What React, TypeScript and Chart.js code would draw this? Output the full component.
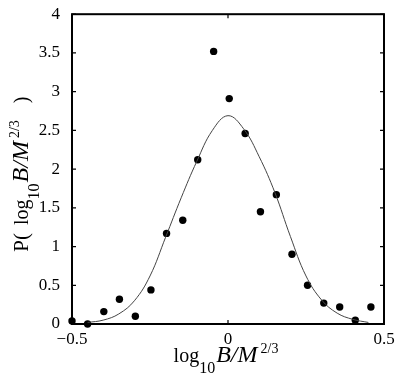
import React, { useEffect, useRef } from "react";
import { Chart, registerables } from "chart.js";
Chart.register(...registerables);

// Observed data points (log10 B/M^(2/3), P)
const pointX = [-0.5, -0.45, -0.398, -0.348, -0.297, -0.247, -0.197, -0.145, -0.097, -0.046, 0.004, 0.055, 0.104, 0.155, 0.205, 0.255, 0.307, 0.358, 0.408, 0.458];
const pointY = [0.04, 0.0, 0.16, 0.32, 0.1, 0.44, 1.17, 1.34, 2.12, 3.52, 2.91, 2.46, 1.45, 1.67, 0.9, 0.5, 0.27, 0.22, 0.05, 0.22];

// Fitted curve
const curveX = [-0.45, -0.4, -0.35, -0.3, -0.25, -0.2, -0.15, -0.1, -0.05, 0.0, 0.05, 0.1, 0.15, 0.2, 0.25, 0.3, 0.35, 0.4, 0.45];
const curveY = [0.02, 0.05, 0.13, 0.3, 0.62, 1.12, 1.63, 2.1, 2.5, 2.69, 2.52, 2.16, 1.7, 1.13, 0.62, 0.31, 0.14, 0.06, 0.02];

const xTicks = [-0.5, 0, 0.5];
const yTicks = [0, 0.5, 1, 1.5, 2, 2.5, 3, 3.5, 4];

const SERIF = "'Liberation Serif', 'Times New Roman', Times, serif";

type Seg = { text: string; size: number; italic?: boolean; dy: number; gap: number };

const xTitle: Seg[] = [
  { text: "log", size: 20, dy: 0, gap: 0 },
  { text: "10", size: 16, dy: 11, gap: 0 },
  { text: "B/M", size: 24, italic: true, dy: 0, gap: 1 },
  { text: "2/3", size: 14, dy: -9, gap: 3 },
];
const yTitle: Seg[] = [
  { text: "P(", size: 21, dy: 0, gap: 0 },
  { text: "log", size: 20, dy: 0, gap: 8 },
  { text: "10", size: 16, dy: 11, gap: 0 },
  { text: "B/M", size: 24, italic: true, dy: 0, gap: 1 },
  { text: "2/3", size: 14, dy: -9, gap: 3 },
  { text: ")", size: 20, dy: 0, gap: 17 },
];

function drawRich(ctx: CanvasRenderingContext2D, segs: Seg[], cx: number, cy: number, rotate: boolean) {
  ctx.save();
  ctx.translate(cx, cy);
  if (rotate) ctx.rotate(-Math.PI / 2);
  let total = 0;
  const widths = segs.map((s) => {
    ctx.font = `${s.italic ? "italic " : ""}${s.size}px ${SERIF}`;
    const w = ctx.measureText(s.text).width;
    total += s.gap + w;
    return w;
  });
  let x = -total / 2;
  ctx.textBaseline = "alphabetic";
  ctx.textAlign = "left";
  ctx.fillStyle = "#000";
  segs.forEach((s, i) => {
    x += s.gap;
    ctx.font = `${s.italic ? "italic " : ""}${s.size}px ${SERIF}`;
    ctx.fillText(s.text, x, s.dy);
    x += widths[i];
  });
  ctx.restore();
}

const frame = {
  id: "matlabFrame",
  beforeDatasetsDraw(chart: any) {
    const { ctx, chartArea: a, scales } = chart;
    ctx.save();
    ctx.strokeStyle = "#000";
    ctx.lineWidth = 1.2;
    const tl = 4;
    ctx.beginPath();
    for (const v of xTicks) {
      const px = scales.x.getPixelForValue(v);
      ctx.moveTo(px, a.bottom);
      ctx.lineTo(px, a.bottom - tl);
      ctx.moveTo(px, a.top);
      ctx.lineTo(px, a.top + tl);
    }
    for (const v of yTicks) {
      const py = scales.y.getPixelForValue(v);
      ctx.moveTo(a.left, py);
      ctx.lineTo(a.left + tl, py);
      ctx.moveTo(a.right, py);
      ctx.lineTo(a.right - tl, py);
    }
    ctx.stroke();
    ctx.lineWidth = 2;
    ctx.strokeRect(a.left, a.top, a.right - a.left, a.bottom - a.top);
    ctx.restore();
  },
  afterDraw(chart: any) {
    const { ctx, chartArea: a } = chart;
    drawRich(ctx, xTitle, (a.left + a.right) / 2 - 2, 362, false);
    drawRich(ctx, yTitle, 28, (a.top + a.bottom) / 2 + 5, true);
  },
};

const fmt = (v: number) => (v < 0 ? "\u2212" + String(Math.abs(v)) : String(v));

export default function App() {
  const ref = useRef<HTMLCanvasElement>(null);
  useEffect(() => {
    if (!ref.current) return;
    let chart: Chart | null = null;
    let cancelled = false;
    const make = () => {
      if (cancelled || !ref.current) return;
      chart = new Chart(ref.current, {
        type: "scatter",
        data: {
          datasets: [
            {
              label: "fit",
              data: curveX.map((x, i) => ({ x, y: curveY[i] })),
              showLine: true,
              borderColor: "#444",
              borderWidth: 1,
              pointRadius: 0,
              tension: 0.4,
              clip: false as any,
            },
            {
              label: "data",
              data: pointX.map((x, i) => ({ x, y: pointY[i] })),
              showLine: false,
              backgroundColor: "#000",
              borderColor: "#000",
              borderWidth: 0,
              pointRadius: 3.7,
              clip: false as any,
            },
          ],
        },
        options: {
          animation: false,
          responsive: false,
          devicePixelRatio: 1,
          layout: { padding: { left: 0, right: 15, top: 13, bottom: 0 } },
          plugins: { legend: { display: false }, tooltip: { enabled: false } },
          scales: {
            x: {
              type: "linear",
              min: -0.5,
              max: 0.5,
              grid: { display: false },
              border: { display: false },
              afterBuildTicks: (s: any) => {
                s.ticks = xTicks.map((value) => ({ value }));
              },
              afterFit: (s: any) => {
                s.height = 56;
              },
              ticks: {
                padding: -3,
                color: "#000",
                font: { family: SERIF, size: 17 },
                maxRotation: 0,
                callback: (v: any) => fmt(Number(v)),
              },
            },
            y: {
              type: "linear",
              min: 0,
              max: 4,
              grid: { display: false },
              border: { display: false },
              afterBuildTicks: (s: any) => {
                s.ticks = yTicks.map((value) => ({ value }));
              },
              afterFit: (s: any) => {
                s.width = 72;
              },
              ticks: {
                padding: 4,
                color: "#000",
                font: { family: SERIF, size: 17 },
                callback: (v: any) => fmt(Number(v)),
              },
            },
          },
        },
        plugins: [frame],
      });
    };
    const fontsApi = (document as any).fonts;
    if (fontsApi && fontsApi.load) {
      Promise.all([
        fontsApi.load("17px 'Liberation Serif'"),
        fontsApi.load("italic 24px 'Liberation Serif'"),
      ]).then(make, make);
    } else {
      make();
    }
    return () => {
      cancelled = true;
      if (chart) chart.destroy();
    };
  }, []);
  return (
    <div style={{ position: "fixed", left: 0, top: 0, width: 399, height: 380, background: "#fff" }}>
      <canvas ref={ref} width={399} height={380} style={{ width: 399, height: 380, display: "block" }} />
    </div>
  );
}
